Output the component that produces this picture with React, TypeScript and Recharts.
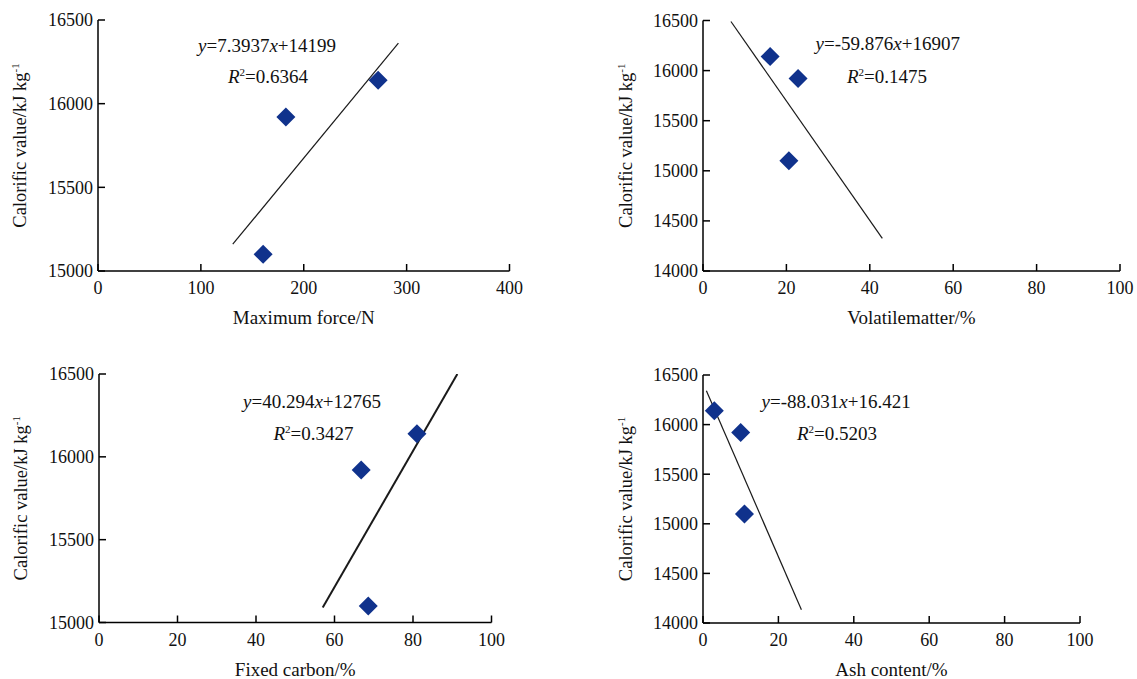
import React from 'react';
import { ScatterChart, Scatter, XAxis, YAxis } from 'recharts';

// ---- data ----
const calorificValues = [15100, 15920, 16140];
const maxForceValues = [160.5, 182.6, 272.3];
const volatileValues = [20.6, 22.8, 16.1];
const fixedCarbonValues = [68.6, 66.8, 81.0];
const ashValues = [11.0, 10.0, 3.0];

const forceTicks = [0, 100, 200, 300, 400];
const percentTicks = [0, 20, 40, 60, 80, 100];
const calTicksShort = [15000, 15500, 16000, 16500];
const calTicksLong = [14000, 14500, 15000, 15500, 16000, 16500];

// trend line end points (as drawn in the reference)
const forceTrend = [{ x: 131, y: 15160 }, { x: 292, y: 16362 }];
const volatileTrend = [{ x: 6.7, y: 16490 }, { x: 43, y: 14325 }];
const fixedCarbonTrend = [{ x: 57, y: 15090 }, { x: 91.3, y: 16500 }];
const ashTrend = [{ x: 0.9, y: 16342 }, { x: 26.1, y: 14134 }];

const FONT = '"Liberation Serif", "Times New Roman", serif';
const POINT_COLOR = '#10328C';

const toPoints = (xs: number[]) => calorificValues.map((y, i) => ({ x: xs[i], y }));

const Diamond = (props: any) => {
  const { cx, cy } = props;
  if (cx == null || cy == null) return <g />;
  const r = 9.5;
  return (
    <polygon
      points={`${cx},${cy - r} ${cx + r},${cy} ${cx},${cy + r} ${cx - r},${cy}`}
      fill={POINT_COLOR}
    />
  );
};

const NoShape = () => <g />;

const makeYLabel = (offset: number) => (props: any) => {
  const vb = props.viewBox || {};
  const cx = vb.x + vb.width - offset;
  const cy = vb.y + vb.height / 2;
  return (
    <text
      x={cx}
      y={cy}
      transform={`rotate(-90, ${cx}, ${cy})`}
      textAnchor="middle"
      fontFamily={FONT}
      fontSize={18.5}
      fill="#111"
    >
      Calorific value/kJ kg
      <tspan dy={-7} fontSize={11}>-1</tspan>
    </text>
  );
};

const makeXLabel = (title: string) => (props: any) => {
  const vb = props.viewBox || {};
  const cx = vb.x + vb.width / 2;
  const cy = vb.y + 53;
  return (
    <text x={cx} y={cy} textAnchor="middle" fontFamily={FONT} fontSize={19} fill="#111">
      {title}
    </text>
  );
};

type PanelProps = {
  left: number;
  top: number;
  width: number;
  height: number;
  margin: { top: number; right: number; bottom: number; left: number };
  xDomain: [number, number];
  xTicks: number[];
  yDomain: [number, number];
  yTicks: number[];
  xTitle: string;
  yLabelOffset: number;
  points: { x: number; y: number }[];
  trend: { x: number; y: number }[];
  trendWidth: number;
};

const axisLineStyle = { stroke: '#000', strokeWidth: 1.5 };
const tickStyle = { fill: '#111', fontSize: 18, fontFamily: FONT };

const Panel = (p: PanelProps) => (
  <div style={{ position: 'absolute', left: p.left, top: p.top, width: p.width, height: p.height }}>
    <ScatterChart width={p.width} height={p.height} margin={p.margin}>
      <XAxis
        type="number"
        dataKey="x"
        domain={p.xDomain}
        ticks={p.xTicks}
        interval={0}
        allowDataOverflow
        tickSize={-7}
        tickMargin={17.5}
        height={30}
        axisLine={axisLineStyle}
        tickLine={axisLineStyle}
        tick={tickStyle}
        label={makeXLabel(p.xTitle)}
      />
      <YAxis
        type="number"
        dataKey="y"
        domain={p.yDomain}
        ticks={p.yTicks}
        interval={0}
        allowDataOverflow
        tickSize={-7}
        tickMargin={12}
        width={60}
        axisLine={axisLineStyle}
        tickLine={axisLineStyle}
        tick={tickStyle}
        label={makeYLabel(p.yLabelOffset)}
      />
      <Scatter
        data={p.trend}
        line={{ stroke: '#1a1a1a', strokeWidth: p.trendWidth }}
        shape={NoShape}
        isAnimationActive={false}
      />
      <Scatter data={p.points} shape={Diamond} isAnimationActive={false} />
    </ScatterChart>
  </div>
);

const Equation = ({ x, y, slope, intercept }: { x: number; y: number; slope: string; intercept: string }) => (
  <text x={x} y={y} fontFamily={FONT} fontSize={19} fill="#111">
    <tspan fontStyle="italic">y</tspan>
    <tspan>={slope}</tspan>
    <tspan fontStyle="italic">x</tspan>
    <tspan>+{intercept}</tspan>
  </text>
);

const RSquared = ({ x, y, value }: { x: number; y: number; value: string }) => (
  <text x={x} y={y} fontFamily={FONT} fontSize={19} fill="#111">
    <tspan fontStyle="italic">R</tspan>
    <tspan dy={-7} fontSize={11}>2</tspan>
    <tspan dy={7}>={value}</tspan>
  </text>
);

export default function App() {
  return (
    <div
      style={{
        position: 'absolute',
        left: 0,
        top: 0,
        width: 1137,
        height: 679,
        background: '#fff',
        overflow: 'hidden',
        fontFamily: FONT,
      }}
    >
      <Panel
        left={0}
        top={0}
        width={568}
        height={340}
        margin={{ top: 20, right: 58.5, bottom: 39, left: 38 }}
        xDomain={[0, 400]}
        xTicks={forceTicks}
        yDomain={[15000, 16500]}
        yTicks={calTicksShort}
        xTitle="Maximum force/N"
        yLabelOffset={72}
        points={toPoints(maxForceValues)}
        trend={forceTrend}
        trendWidth={1.2}
      />
      <Panel
        left={568}
        top={0}
        width={569}
        height={340}
        margin={{ top: 20.5, right: 17, bottom: 39, left: 75 }}
        xDomain={[0, 100]}
        xTicks={percentTicks}
        yDomain={[14000, 16500]}
        yTicks={calTicksLong}
        xTitle="Volatilematter/%"
        yLabelOffset={71}
        points={toPoints(volatileValues)}
        trend={volatileTrend}
        trendWidth={1.2}
      />
      <Panel
        left={0}
        top={340}
        width={568}
        height={339}
        margin={{ top: 34, right: 76.5, bottom: 26.5, left: 39 }}
        xDomain={[0, 100]}
        xTicks={percentTicks}
        yDomain={[15000, 16500]}
        yTicks={calTicksShort}
        xTitle="Fixed carbon/%"
        yLabelOffset={72}
        points={toPoints(fixedCarbonValues)}
        trend={fixedCarbonTrend}
        trendWidth={2}
      />
      <Panel
        left={568}
        top={340}
        width={569}
        height={339}
        margin={{ top: 35, right: 57, bottom: 26, left: 75 }}
        xDomain={[0, 100]}
        xTicks={percentTicks}
        yDomain={[14000, 16500]}
        yTicks={calTicksLong}
        xTitle="Ash content/%"
        yLabelOffset={71}
        points={toPoints(ashValues)}
        trend={ashTrend}
        trendWidth={1.2}
      />
      <svg
        width={1137}
        height={679}
        style={{ position: 'absolute', left: 0, top: 0, pointerEvents: 'none' }}
      >
        <Equation x={198} y={51.5} slope="7.3937" intercept="14199" />
        <RSquared x={228} y={83} value="0.6364" />
        <Equation x={815.5} y={50} slope="-59.876" intercept="16907" />
        <RSquared x={847} y={82.5} value="0.1475" />
        <Equation x={243} y={408} slope="40.294" intercept="12765" />
        <RSquared x={273.5} y={439.5} value="0.3427" />
        <Equation x={761.5} y={408} slope="-88.031" intercept="16.421" />
        <RSquared x={797} y={439.5} value="0.5203" />
      </svg>
    </div>
  );
}
